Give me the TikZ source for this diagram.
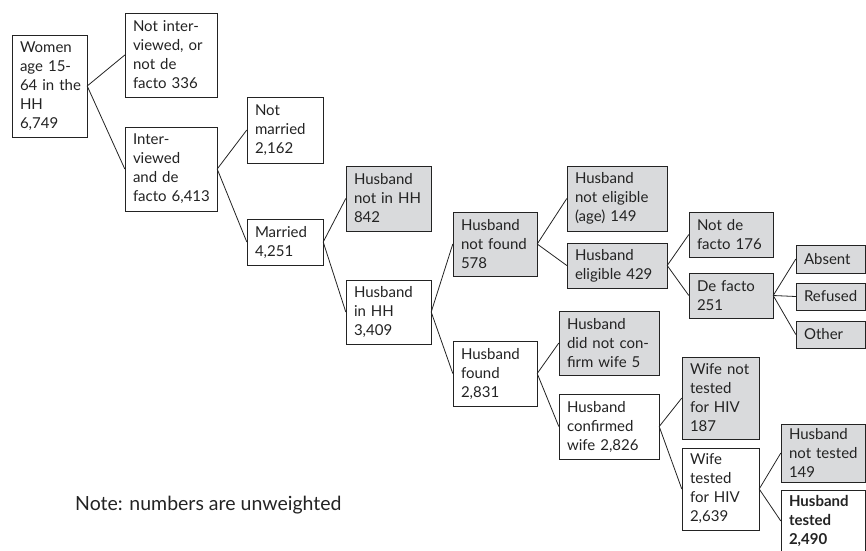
\documentclass[tikz,border=0pt]{standalone}
\usepackage{fontspec}
\setmainfont{Lato}
\usepackage{tikz}
\usetikzlibrary{positioning}
\definecolor{boxgrey}{RGB}{217,218,220}
\definecolor{ink}{RGB}{35,35,35}

\tikzset{
  box/.style={draw=ink, fill=white, text=ink, align=left, inner xsep=8pt, inner ysep=3pt,
    font=\fontsize{15}{19}\selectfont},
  gbox/.style={box, fill=boxgrey},
  wh/.style 2 args={text width=#1, minimum height=#2},
  link/.style={draw=ink, line width=0.8pt}
}

\begin{document}
\begin{tikzpicture}[x=1pt, y=-1pt]
  \useasboundingbox (0,0) rectangle (866,550);
  \clip (0,0) rectangle (866,550);

  \node[box, wh={59pt}{102pt}] (wom) at (49.5,86) {Women\\age~15-\\64~in~the\\HH\\6,749};
  \node[box, wh={76pt}{84pt}] (nint) at (171,55) {Not~inter-\\viewed,~or\\not~de\\facto~336};
  \node[box, wh={76pt}{84pt}] (intv) at (171,169) {Inter-\\viewed\\and~de\\facto~6,413};
  \node[box, wh={60pt}{66pt}] (nmar) at (285,130) {Not\\married\\2,162};
  \node[box, wh={60pt}{46pt}] (mar) at (285,242) {Married\\4,251};
  \node[gbox, wh={69pt}{65pt}] (hnih) at (388.5,198.5) {Husband\\not~in~HH\\842};
  \node[box, wh={69pt}{64pt}] (hih) at (388.5,312) {Husband\\in~HH\\3,409};
  \node[gbox, wh={68pt}{64pt}] (hnf) at (495,244) {Husband\\not~found\\578};
  \node[box, wh={68pt}{65pt}] (hf) at (495,373.5) {Husband\\found\\2,831};
  \node[gbox, wh={84pt}{65pt}] (hne) at (617,198.5) {Husband\\not~eligible\\(age)~149};
  \node[gbox, wh={84pt}{45pt}] (he) at (617,265.5) {Husband\\eligible~429};
  \node[gbox, wh={84pt}{64pt}] (hdnc) at (609,343) {Husband\\did~not~con-\\firm~wife~5};
  \node[box, wh={84pt}{65pt}] (hc) at (609,426.5) {Husband\\confirmed\\wife~2,826};
  \node[gbox, wh={68pt}{45pt}] (ndf) at (731,234.5) {Not~de\\facto~176};
  \node[gbox, wh={68pt}{45pt}] (df) at (731,295.5) {De~facto\\251};
  \node[gbox, wh={53pt}{28pt}] (abs) at (830.5,259) {Absent};
  \node[gbox, wh={53pt}{27pt}] (ref) at (830.5,296.5) {Refused};
  \node[gbox, wh={53pt}{27pt}] (oth) at (830.5,334.5) {Other};
  \node[gbox, wh={61pt}{82pt}] (wnt) at (720.5,398) {Wife~not\\tested\\for~HIV\\187};
  \node[box, wh={61pt}{82pt}] (wt) at (720.5,489) {Wife\\tested\\for~HIV\\2,639};
  \node[gbox, wh={68pt}{58pt}] (hnt) at (823,453) {Husband\\not~tested\\149};
  \node[box, wh={68pt}{62pt}, font=\fontsize{15}{19}\selectfont\bfseries] (ht) at (823,521) {Husband\\tested\\2,490};

  \node[anchor=base west, text=ink, inner sep=0pt, font=\fontsize{19.5}{23}\selectfont] (note) at (75,510) {Note: numbers are unweighted};

  \draw[link] (wom.east)--(nint.west);
  \draw[link] (wom.east)--(intv.west);
  \draw[link] (intv.east)--(nmar.west);
  \draw[link] (intv.east)--(mar.west);
  \draw[link] (mar.east)--(hnih.west);
  \draw[link] (mar.east)--(hih.west);
  \draw[link] (hih.east)--(hnf.west);
  \draw[link] (hih.east)--(hf.west);
  \draw[link] (hnf.east)--(hne.west);
  \draw[link] (hnf.east)--(he.west);
  \draw[link] (he.east)--(ndf.west);
  \draw[link] (he.east)--(df.west);
  \draw[link] (df.east)--(abs.west);
  \draw[link] (df.east)--(ref.west);
  \draw[link] (df.east)--(oth.west);
  \draw[link] (hf.east)--(hdnc.west);
  \draw[link] (hf.east)--(hc.west);
  \draw[link] (hc.east)--(wnt.west);
  \draw[link] (hc.east)--(wt.west);
  \draw[link] (wt.east)--(hnt.west);
  \draw[link] (wt.east)--(ht.west);
\end{tikzpicture}
\end{document}
